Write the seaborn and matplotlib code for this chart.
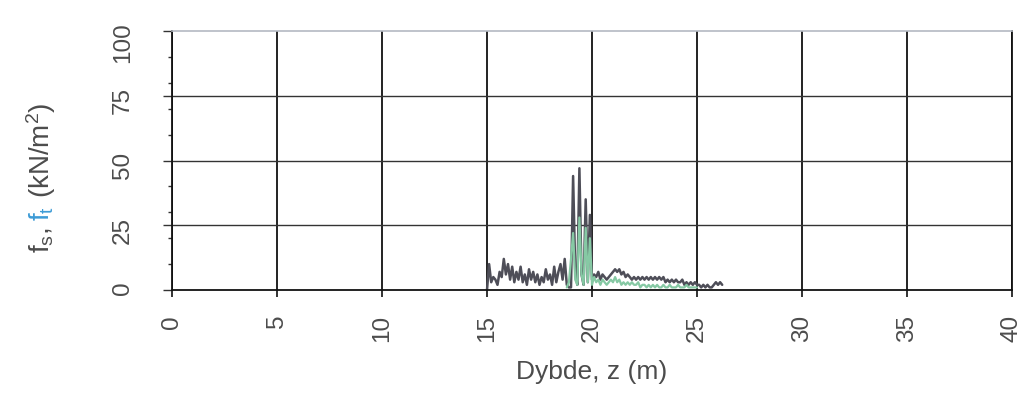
import numpy as np
import pandas as pd
import matplotlib
matplotlib.use("Agg")
import matplotlib.pyplot as plt
import seaborn as sns

sns.set_style("white")
plt.rcParams['font.family'] = ['Liberation Sans', 'DejaVu Sans']
plt.rcParams['mathtext.default'] = 'regular'


# DATA

depth_fs = [
    15.0, 15.1, 15.2, 15.3, 15.4, 15.5, 15.6, 15.7, 15.8, 15.9,
    16.0, 16.1, 16.2, 16.3, 16.4, 16.5, 16.6, 16.7, 16.8, 16.9,
    17.0, 17.1, 17.2, 17.3, 17.4, 17.5, 17.6, 17.7, 17.8, 17.9,
    18.0, 18.1, 18.2, 18.3, 18.4, 18.5, 18.6, 18.7, 18.8, 18.9,
    19.0, 19.1, 19.2, 19.3, 19.4, 19.5, 19.6, 19.7, 19.8, 19.9,
    20.0, 20.1, 20.2, 20.3, 20.4, 20.5, 20.6, 20.7, 20.8, 20.9,
    21.0, 21.1, 21.2, 21.3, 21.4, 21.5, 21.6, 21.7, 21.8, 21.9,
    22.0, 22.1, 22.2, 22.3, 22.4, 22.5, 22.6, 22.7, 22.8, 22.9,
    23.0, 23.1, 23.2, 23.3, 23.4, 23.5, 23.6, 23.7, 23.8, 23.9,
    24.0, 24.1, 24.2, 24.3, 24.4, 24.5, 24.6, 24.7, 24.8, 24.9,
    25.0, 25.1, 25.2, 25.3, 25.4, 25.5, 25.6, 25.7, 25.8, 25.9,
    26.0, 26.1, 26.2,
]
fs = [
    0, 10, 3, 5, 4, 2, 7, 5, 12, 6,
    10, 4, 9, 3, 7, 4, 9, 3, 6, 2,
    8, 4, 7, 3, 6, 2, 5, 3, 8, 4,
    6, 2, 9, 3, 7, 10, 4, 12, 2, 1,
    1, 44, 8, 2, 47, 6, 2, 35, 3, 29,
    4, 6, 5, 7, 4, 6, 5, 4, 5, 6,
    7, 8, 7, 8, 6, 7, 5, 6, 5, 4,
    5, 4, 5, 4, 5, 4, 5, 4, 5, 4,
    5, 4, 5, 4, 5, 3, 4, 3, 4, 3,
    4, 3, 3, 4, 2, 3, 2, 3, 2, 3,
    2, 2, 1, 2, 1, 2, 1, 1, 2, 3,
    2, 3, 2,
]

depth_ft = [
    18.8, 18.9,
    19.0, 19.1, 19.2, 19.3, 19.4, 19.5, 19.6, 19.7, 19.8, 19.9,
    20.0, 20.1, 20.2, 20.3, 20.4, 20.5, 20.6, 20.7, 20.8, 20.9,
    21.0, 21.1, 21.2, 21.3, 21.4, 21.5, 21.6, 21.7, 21.8, 21.9,
    22.0, 22.1, 22.2, 22.3, 22.4, 22.5, 22.6, 22.7, 22.8, 22.9,
    23.0, 23.1, 23.2, 23.3, 23.4, 23.5, 23.6, 23.7, 23.8, 23.9,
    24.0, 24.1, 24.2, 24.3, 24.4, 24.5, 24.6, 24.7, 24.8, 24.9,
    25.0,
]
ft = [
    1, 3,
    12, 22, 4, 2, 28, 6, 2, 24, 3, 20,
    2, 5, 3, 4, 2, 4, 3, 2, 3, 4,
    3, 5, 3, 4, 2, 3, 2, 3, 2, 3,
    2, 2, 3, 1, 2, 2, 1, 2, 1, 2,
    1, 2, 1, 1, 2, 1, 1, 2, 1, 1,
    1, 2, 1, 1, 1, 2, 1, 1, 1, 1,
    1,
]

x_ticks = [0, 5, 10, 15, 20, 25, 30, 35, 40]
y_ticks = [0, 25, 50, 75, 100]
y_minor = [0, 10, 20, 30, 40, 50, 60, 70, 80, 90, 100]

df_fs = pd.DataFrame({'z': depth_fs, 'f': fs})
df_ft = pd.DataFrame({'z': depth_ft, 'f': ft})

grey_txt = '#4c4c4c'
blue_txt = '#3d9bd6'


# PLOT

fig = plt.figure(figsize=(10.32, 3.94), dpi=100)
ax = fig.add_axes([172 / 1032, 1 - 290 / 394, 840 / 1032, 259 / 394])

sns.lineplot(data=df_fs, x='z', y='f', color='#4e4e58', lw=1.8,
             estimator=None, sort=False, ax=ax)
sns.lineplot(data=df_ft, x='z', y='f', color='#86c9a4', lw=1.6,
             estimator=None, sort=False, ax=ax)

ax.set_xlim(0, 40)
ax.set_ylim(0, 100)
ax.set_xticks(x_ticks)
ax.set_yticks(y_ticks)
ax.set_yticks(y_minor, minor=True)

# grid
ax.grid(False)
for xv in x_ticks:
    ax.axvline(xv, color='#111111', lw=1.3, zorder=0.5)
for yv in y_ticks[1:-1]:
    ax.axhline(yv, color='#333333', lw=1.0, zorder=0.5)

for s in ['left', 'bottom', 'right']:
    ax.spines[s].set_color('#111111')
    ax.spines[s].set_linewidth(1.3)
ax.spines['top'].set_color('#b4b9c2')
ax.spines['top'].set_linewidth(1.2)

ax.tick_params(axis='x', which='major', direction='out', length=5, width=1.2,
               color='#111111', pad=13, labelsize=17.5, labelcolor=grey_txt,
               labelrotation=90, bottom=True)
ax.tick_params(axis='y', which='major', direction='out', length=6.5, width=1.0,
               color='#333333', pad=21, labelsize=17.5, labelcolor=grey_txt,
               labelrotation=90, left=True)
ax.tick_params(axis='y', which='minor', direction='out', length=3, width=1.0,
               color='#333333', left=True)

ax.set_xlabel('Dybde, z (m)', fontsize=19, color=grey_txt, labelpad=13)
ax.set_ylabel('')

# y label in three coloured pieces
fig.canvas.draw()
r = fig.canvas.get_renderer()
x0 = 50 / 1032
y = 1 - 253 / 394
pieces = [('f$_{s}$,', grey_txt, 6), ('f$_{t}$', blue_txt, 8),
          ('(kN/m$^{2}$)', grey_txt, 0)]
for txt, col, gap in pieces:
    t = fig.text(x0, y, txt, rotation=90, rotation_mode='anchor',
                 ha='left', va='baseline', fontsize=20, color=col)
    bb = t.get_window_extent(r)
    y += (bb.height + gap) / fig.bbox.height

fig.savefig('out.png', dpi=100)
